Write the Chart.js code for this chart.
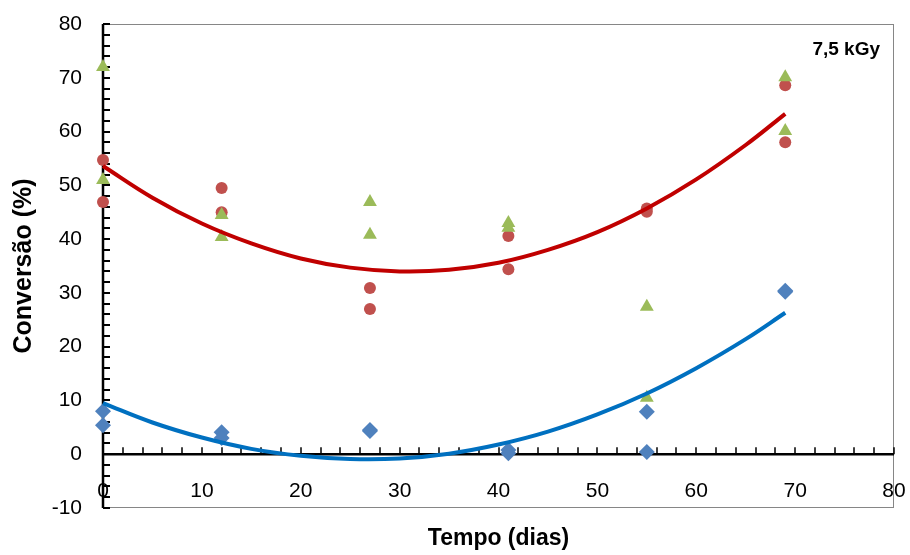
<!DOCTYPE html>
<html><head><meta charset="utf-8">
<script src="https://cdn.jsdelivr.net/npm/chart.js@4/dist/chart.umd.min.js"></script>
<style>html,body{margin:0;padding:0;background:#fff;overflow:hidden}</style>
</head><body>
<canvas id="c" width="910" height="555"></canvas>
<script>
// ---- data ----
const xTickLabels = [0, 10, 20, 30, 40, 50, 60, 70, 80];
const yTickLabels = [-10, 0, 10, 20, 30, 40, 50, 60, 70, 80];
const sampleDays = [0, 0, 12, 12, 27, 27, 41, 41, 55, 55, 69, 69];
const greenValues = [72.0, 51.0, 44.5, 40.4, 46.9, 40.8, 43.0, 42.1, 27.4, 10.5, 70.1, 60.1];
const redValues   = [54.7, 46.9, 49.5, 45.0, 30.9, 27.0, 40.6, 34.4, 45.7, 45.1, 68.6, 58.0];
const blueValues  = [8.0, 5.4, 4.1, 3.0, 4.5, 4.3, 0.8, 0.2, 7.9, 0.4, 30.4, 30.2];
const trendDays   = [0, 5, 10, 15, 20, 25, 30, 35, 40, 45, 50, 55, 60, 65, 69];
const redTrend    = [53.6, 47.7, 42.9, 39.2, 36.4, 34.7, 34.0, 34.3, 35.6, 38.0, 41.3, 45.7, 51.1, 57.5, 63.3];
const blueTrend   = [9.5, 5.9, 3.1, 1.0, -0.3, -0.9, -0.8, 0.1, 1.8, 4.2, 7.4, 11.3, 16.0, 21.4, 26.3];
const annotationText = '7,5 kGy';
const xTitle = 'Tempo (dias)';
const yTitle = 'Conversão (%)';

const pts = (xs, ys) => xs.map((x, i) => ({x: x, y: ys[i]}));
const FONT = "'Liberation Sans', Arial, sans-serif";

const axesPlugin = {
  id: 'excelAxes',
  beforeDatasetsDraw(chart) {
    const {ctx, chartArea: a, scales: {x, y}} = chart;
    ctx.save();
    // plot-area frame
    ctx.strokeStyle = '#868686';
    ctx.lineWidth = 1;
    ctx.strokeRect(a.left + 0.5, a.top + 0.5, a.right - a.left - 1, a.bottom - a.top - 1);
    // y axis line
    const x0 = x.getPixelForValue(0);
    ctx.strokeStyle = '#000';
    ctx.lineWidth = 2.5;
    ctx.beginPath();
    ctx.moveTo(x0, a.top);
    ctx.lineTo(x0, a.bottom);
    ctx.stroke();
    // y ticks (inside, every 2)
    ctx.lineWidth = 2;
    ctx.beginPath();
    for (let v = y.min; v <= y.max + 1e-9; v += 2) {
      const py = Math.round(y.getPixelForValue(v));
      ctx.moveTo(x0, py);
      ctx.lineTo(x0 + 7, py);
    }
    ctx.stroke();
    // x axis line at y=0
    const y0 = y.getPixelForValue(0);
    ctx.lineWidth = 2.5;
    ctx.beginPath();
    ctx.moveTo(a.left, y0);
    ctx.lineTo(a.right, y0);
    ctx.stroke();
    // x ticks (upward, every 2)
    ctx.lineWidth = 1.5;
    ctx.beginPath();
    for (let v = x.min; v <= x.max + 1e-9; v += 2) {
      const px = Math.round(x.getPixelForValue(v));
      ctx.moveTo(px, y0);
      ctx.lineTo(px, y0 - 7);
    }
    ctx.stroke();
    // x tick labels (low position, inside plot frame)
    ctx.fillStyle = '#000';
    ctx.font = '21px ' + FONT;
    ctx.textAlign = 'center';
    ctx.textBaseline = 'middle';
    x.ticks.forEach(t => {
      ctx.fillText(String(t.value), x.getPixelForValue(t.value), 491);
    });
    ctx.restore();
  },
  afterDraw(chart) {
    const {ctx, chartArea: a} = chart;
    ctx.save();
    ctx.fillStyle = '#000';
    ctx.font = 'bold 19px ' + FONT;
    ctx.textAlign = 'right';
    ctx.textBaseline = 'alphabetic';
    ctx.fillText(annotationText, a.right - 14, 55);
    ctx.restore();
  }
};

new Chart(document.getElementById('c'), {
  type: 'scatter',
  data: {
    datasets: [
      {label: 'tendência vermelha', data: pts(trendDays, redTrend), showLine: true, borderColor: '#C00000', borderWidth: 4, pointRadius: 0, tension: 0.4, fill: false, order: 0, clip: false},
      {label: 'tendência azul', data: pts(trendDays, blueTrend), showLine: true, borderColor: '#0070C0', borderWidth: 4, pointRadius: 0, tension: 0.4, fill: false, order: 0, clip: false},
      {label: 'verde', data: pts(sampleDays, greenValues), pointStyle: 'triangle', pointRadius: 8, backgroundColor: '#9BBB59', borderColor: '#9BBB59', borderWidth: 0, order: 1, clip: false},
      {label: 'vermelho', data: pts(sampleDays, redValues), pointStyle: 'circle', pointRadius: 6, backgroundColor: '#C0504D', borderColor: '#C0504D', borderWidth: 0, order: 2, clip: false},
      {label: 'azul', data: pts(sampleDays, blueValues), pointStyle: 'rectRot', pointRadius: 8, backgroundColor: '#4F81BD', borderColor: '#4F81BD', borderWidth: 0, order: 3, clip: false}
    ]
  },
  options: {
    responsive: false,
    animation: false,
    devicePixelRatio: 1,
    layout: {padding: {top: 24, right: 16, left: 0, bottom: 0}},
    plugins: {legend: {display: false}, tooltip: {enabled: false}},
    scales: {
      x: {
        type: 'linear', position: 'bottom', min: 0, max: 80,
        afterBuildTicks: s => { s.ticks = xTickLabels.map(v => ({value: v})); },
        afterFit: s => { s.height = 47; s.paddingLeft = 0; s.paddingRight = 0; s.paddingTop = 0; s.paddingBottom = 0; },
        grid: {display: false, drawTicks: false},
        border: {display: false},
        ticks: {display: false},
        title: {display: true, text: xTitle, color: '#000', font: {family: FONT, size: 23, weight: 'bold'}, padding: {top: 0, bottom: 3}}
      },
      y: {
        type: 'linear', position: 'left', min: -10, max: 80,
        afterBuildTicks: s => { s.ticks = yTickLabels.map(v => ({value: v})); },
        afterFit: s => { s.width = 103; s.paddingTop = 0; s.paddingBottom = 0; s.paddingLeft = 0; s.paddingRight = 0; },
        grid: {display: false, drawTicks: false},
        border: {display: false},
        ticks: {color: '#000', font: {family: FONT, size: 21}, padding: 21, autoSkip: false},
        title: {display: true, text: yTitle, color: '#000', font: {family: FONT, size: 25, weight: 'bold'}, padding: {top: 9, bottom: 0}}
      }
    }
  },
  plugins: [axesPlugin]
});
</script>
</body></html>
